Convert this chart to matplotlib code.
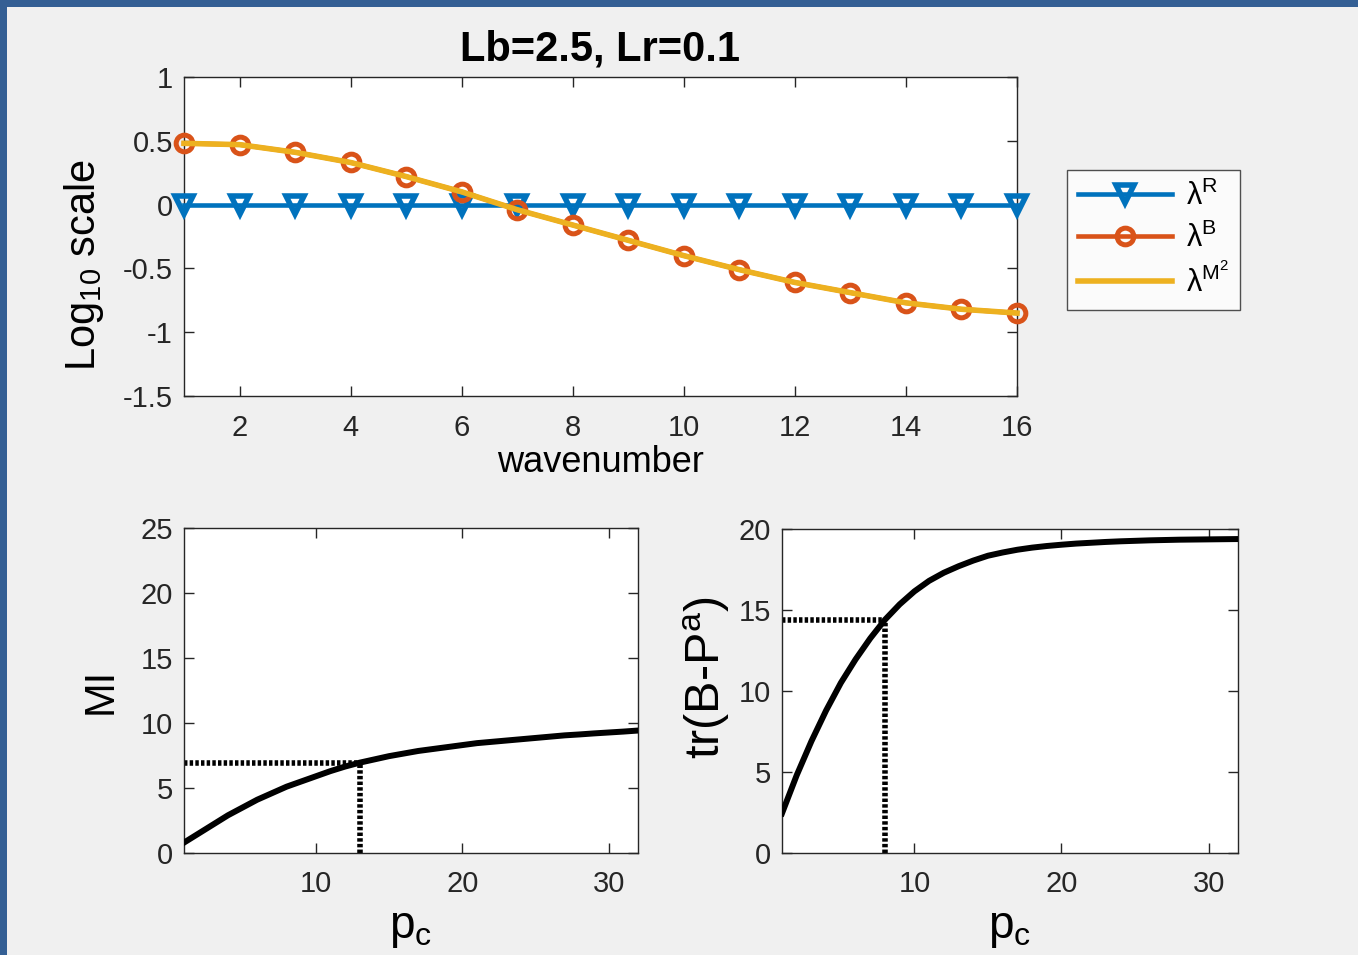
import matplotlib
matplotlib.use("Agg")
import matplotlib.pyplot as plt
from matplotlib.patches import Rectangle

plt.rcParams['font.family'] = ['Liberation Sans', 'DejaVu Sans']
plt.rcParams['mathtext.fontset'] = 'custom'
plt.rcParams['mathtext.rm'] = 'Liberation Sans'
plt.rcParams['mathtext.it'] = 'Liberation Sans:italic'
plt.rcParams['mathtext.default'] = 'regular'
plt.rcParams['axes.unicode_minus'] = False

# ---- data ----
wavenumber = list(range(1, 17))
lam_R = [0.0] * 16
lam_B = [0.48, 0.47, 0.41, 0.33, 0.22, 0.10, -0.04, -0.16,
         -0.28, -0.40, -0.51, -0.61, -0.69, -0.77, -0.82, -0.85]
lam_M2 = lam_B

p_c = list(range(1, 33))
mi = [0.8, 1.5, 2.2, 2.9, 3.5, 4.1, 4.6, 5.1, 5.5, 5.9, 6.3, 6.65, 6.95,
      7.2, 7.45, 7.65, 7.85, 8.0, 8.15, 8.3, 8.45, 8.55, 8.65, 8.75, 8.85,
      8.95, 9.05, 9.12, 9.2, 9.27, 9.34, 9.42]
trace = [2.45, 4.8, 6.9, 8.8, 10.5, 11.95, 13.25, 14.4, 15.35, 16.15, 16.8,
         17.3, 17.7, 18.05, 18.35, 18.55, 18.72, 18.85, 18.95, 19.03, 19.1,
         19.15, 19.2, 19.24, 19.27, 19.3, 19.32, 19.34, 19.35, 19.36, 19.37,
         19.38]
mi_pick = 13
tr_pick = 8

top_xticks = [2, 4, 6, 8, 10, 12, 14, 16]
top_yticks = [-1.5, -1, -0.5, 0, 0.5, 1]
top_yticklabels = ['-1.5', '-1', '-0.5', '0', '0.5', '1']
pc_xticks = [10, 20, 30]

C_BLUE = '#0072BD'
C_ORANGE = '#D95319'
C_YELLOW = '#EDB120'
AX_COL = '#262626'
BG = '#F0F0F0'

W, H = 1358, 955
fig = plt.figure(figsize=(W / 100, H / 100), dpi=100, facecolor=BG)

# frame bars along the top and left edges
fig.patches.append(Rectangle((0, 1 - 7 / H), 1, 7 / H, transform=fig.transFigure,
                             facecolor='#345F94', edgecolor='none', zorder=10))
fig.patches.append(Rectangle((0, 0), 7 / W, 1, transform=fig.transFigure,
                             facecolor='#345F94', edgecolor='none', zorder=10))


def fbox(l, t, r, b):
    return [l / W, 1 - b / H, (r - l) / W, (b - t) / H]


def style(ax, fs=21, xpad=12):
    ax.set_facecolor('white')
    for s in ax.spines.values():
        s.set_color(AX_COL)
        s.set_linewidth(1.0)
    ax.tick_params(direction='in', length=7, width=1.0, colors=AX_COL,
                   labelsize=fs, top=True, right=True, pad=8)
    ax.tick_params(axis='x', pad=xpad)
    for lab in ax.get_xticklabels() + ax.get_yticklabels():
        lab.set_color(AX_COL)


# ---- top panel ----
ax1 = fig.add_axes(fbox(184, 77, 1017, 396))
ax1.plot(wavenumber, lam_R, color=C_BLUE, lw=3.3, marker='v', ms=13,
         mfc='none', mec=C_BLUE, mew=4, label=r'$\lambda^{R}$', zorder=3)
ax1.plot(wavenumber, lam_B, color=C_ORANGE, lw=3.3, marker='o', ms=12,
         mfc='none', mec=C_ORANGE, mew=3.6, label=r'$\lambda^{B}$', zorder=4)
ax1.plot(wavenumber, lam_M2, color=C_YELLOW, lw=4,
         label=r'$\lambda^{M^{2}}$', zorder=5)
ax1.set_xlim(1, 16)
ax1.set_ylim(-1.5, 1)
ax1.set_xticks(top_xticks)
ax1.set_yticks(top_yticks)
ax1.set_yticklabels(top_yticklabels)
style(ax1, xpad=13)
for ln in ax1.lines:
    ln.set_clip_on(False)
ax1.set_title('Lb=2.5, Lr=0.1', fontsize=30, fontweight='bold', pad=12)
ax1.set_xlabel('wavenumber', fontsize=26, labelpad=2)
ax1.set_ylabel(r'Log$_{10}$ scale', fontsize=30)
ax1.yaxis.set_label_coords(-0.0936, 0.41)

leg = fig.legend(handles=ax1.lines, loc='upper left',
                 bbox_to_anchor=(1067 / W, 1 - 170 / H), fontsize=22,
                 frameon=True, fancybox=False, edgecolor=AX_COL,
                 handlelength=3.1, handletextpad=0.45, labelspacing=0.34,
                 borderpad=0.35, borderaxespad=0)
leg.get_frame().set_linewidth(1.0)

dot = (0, (0.62, 0.4))

# ---- bottom left: MI ----
ax2 = fig.add_axes(fbox(184, 528, 638, 853))
ax2.plot(p_c, mi, color='black', lw=4.3, zorder=3)
mi_val = mi[p_c.index(mi_pick)]
ax2.plot([p_c[0], mi_pick], [mi_val, mi_val], color='black', lw=4, ls=dot)
ax2.plot([mi_pick, mi_pick], [0, mi_val], color='black', lw=4, ls=dot)
ax2.set_xlim(1, 32)
ax2.set_ylim(0, 25)
ax2.set_xticks(pc_xticks)
ax2.set_yticks([0, 5, 10, 15, 20, 25])
style(ax2)
ax2.set_xlabel(r'p$_{c}$', fontsize=33, labelpad=6)
ax2.set_ylabel('MI', fontsize=30, labelpad=14)

# ---- bottom right: trace ----
ax3 = fig.add_axes(fbox(782, 529, 1238, 853))
ax3.plot(p_c, trace, color='black', lw=4.3, zorder=3)
tr_val = trace[p_c.index(tr_pick)]
ax3.plot([p_c[0], tr_pick], [tr_val, tr_val], color='black', lw=4, ls=dot)
ax3.plot([tr_pick, tr_pick], [0, tr_val], color='black', lw=4, ls=dot)
ax3.set_xlim(1, 32)
ax3.set_ylim(0, 20)
ax3.set_xticks(pc_xticks)
ax3.set_yticks([0, 5, 10, 15, 20])
style(ax3)
ax3.set_xlabel(r'p$_{c}$', fontsize=33, labelpad=6)
ax3.set_ylabel(r'tr(B-P$^{a}$)', fontsize=35)
ax3.yaxis.set_label_coords(-0.11, 0.54)

fig.savefig('out.png', dpi=100, facecolor=BG)
